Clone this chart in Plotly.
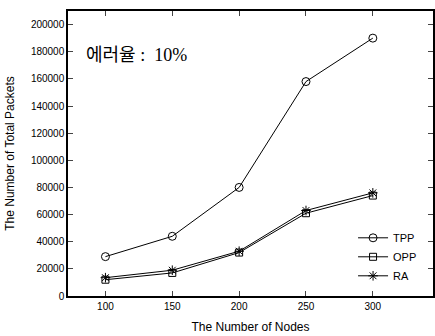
import plotly.graph_objects as go

nodes = [100, 150, 200, 250, 300]
tpp = [29000, 44000, 80000, 158000, 190000]
opp = [12000, 17000, 32000, 61000, 74000]
ra = [13500, 19000, 33000, 63000, 76000]

fig = go.Figure()
fig.add_trace(go.Scatter(x=nodes, y=tpp, name="TPP", mode="lines+markers",
                         line=dict(color="black", width=1),
                         marker=dict(symbol="circle-open", size=8, color="black", line=dict(width=1))))
fig.add_trace(go.Scatter(x=nodes, y=opp, name="OPP", mode="lines+markers",
                         line=dict(color="black", width=1),
                         marker=dict(symbol="square-open", size=7, color="black", line=dict(width=1))))
fig.add_trace(go.Scatter(x=nodes, y=ra, name="RA", mode="lines+markers",
                         line=dict(color="black", width=1),
                         marker=dict(symbol="asterisk-open", size=8, color="black", line=dict(width=1))))

fig.update_layout(
    width=435, height=336,
    margin=dict(l=68, r=2, t=11, b=40),
    paper_bgcolor="white", plot_bgcolor="white",
    font=dict(family="Liberation Sans, Arial", size=10, color="black"),
    showlegend=True,
    legend=dict(x=0.97, y=0.02, xanchor="right", yanchor="bottom",
                bgcolor="rgba(0,0,0,0)", font=dict(size=11),
                itemwidth=30, tracegroupgap=0),
    annotations=[dict(x=0.045, y=0.845, xref="paper", yref="paper",
                      text="에러율 :  10%", showarrow=False,
                      xanchor="left", yanchor="middle",
                      font=dict(family="Liberation Serif, Noto Sans CJK KR", size=18, color="black"))],
)
fig.update_xaxes(range=[72, 345], tickvals=nodes, ticks="inside", ticklen=5,
                 showline=True, linecolor="black", linewidth=1.5, mirror="ticks",
                 showgrid=False, zeroline=False, automargin=False,
                 title=dict(text="The Number of Nodes", font=dict(size=12), standoff=12))
fig.update_yaxes(range=[0, 210000], tickvals=list(range(0, 200001, 20000)),
                 tickformat="d", ticks="inside", ticklen=5,
                 showline=True, linecolor="black", linewidth=1.5, mirror="ticks",
                 showgrid=False, zeroline=False, automargin=False,
                 title=dict(text="The Number of Total Packets", font=dict(size=12), standoff=14))

fig.write_html("out.html")
